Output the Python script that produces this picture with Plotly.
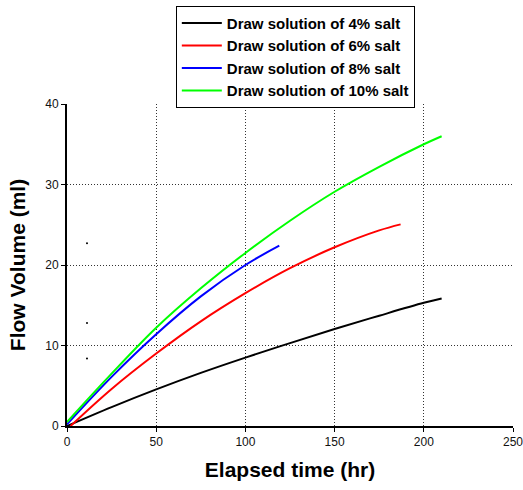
import plotly.graph_objects as go

# Data
x_4 = [0, 25, 50, 75, 100, 125, 150, 175, 200, 210]
y_4 = [0, 2.35, 4.55, 6.6, 8.5, 10.3, 12.05, 13.7, 15.3, 15.85]

x_6 = [2, 25, 50, 75, 100, 125, 150, 175, 187]
y_6 = [0, 4.6, 9.0, 13.0, 16.5, 19.6, 22.2, 24.3, 25.05]

x_8 = [0, 25, 50, 75, 100, 119]
y_8 = [0.2, 6.1, 11.4, 16.1, 20.0, 22.4]

x_10 = [0, 25, 50, 75, 100, 125, 150, 175, 200, 210]
y_10 = [0.5, 6.5, 12.2, 17.1, 21.5, 25.5, 29.1, 32.2, 35.0, 36.0]

stray_x = [11.2, 11.2, 11.2]
stray_y = [22.7, 12.8, 8.4]

names = ["Draw solution of 4% salt", "Draw solution of 6% salt",
         "Draw solution of 8% salt", "Draw solution of 10% salt"]
colors = ["#000000", "#ff0000", "#0000ff", "#00ff00"]
series = [(x_4, y_4), (x_6, y_6), (x_8, y_8), (x_10, y_10)]

font = "Arial, Liberation Sans, sans-serif"

fig = go.Figure()
for (xs, ys), n, c in zip(series, names, colors):
    fig.add_trace(go.Scatter(x=xs, y=ys, name=n, mode="lines",
                             line=dict(color=c, width=2, shape="spline", smoothing=1.0)))

fig.add_trace(go.Scatter(x=stray_x, y=stray_y, mode="markers", showlegend=False,
                         marker=dict(color="#000000", size=2), hoverinfo="skip"))

fig.update_layout(
    width=523, height=490,
    margin=dict(l=67, r=10, t=104, b=64, autoexpand=False),
    paper_bgcolor="white", plot_bgcolor="white",
    font=dict(family=font, size=12, color="#000000"),
    showlegend=True,
    legend=dict(x=0.244, y=1.305, xanchor="left", yanchor="top",
                bordercolor="#000000", borderwidth=1, bgcolor="white",
                font=dict(family=font, size=15, color="#000000", weight="bold"),
                tracegroupgap=0, itemwidth=40),
    xaxis=dict(range=[0, 250.001], dtick=50, tick0=0, automargin=False,
               showline=True, linecolor="#000000", linewidth=2,
               ticks="outside", ticklen=4, tickcolor="#000000",
               showgrid=True, gridcolor="#333333", griddash="1px,2px", gridwidth=1,
               zeroline=False, ticklabeloverflow="allow",
               tickfont=dict(family=font, size=12, color="#111111"),
               title=dict(text="Elapsed time (hr)", standoff=14,
                          font=dict(family=font, size=21, color="#000000", weight="bold"))),
    yaxis=dict(range=[0, 40.001], dtick=10, tick0=0, automargin=False,
               showline=True, linecolor="#000000", linewidth=2,
               ticks="outside", ticklen=4, tickcolor="#000000",
               showgrid=True, gridcolor="#333333", griddash="1px,2px", gridwidth=1,
               zeroline=False, ticklabeloverflow="allow",
               tickfont=dict(family=font, size=12, color="#111111"),
               title=dict(text="Flow Volume (ml)", standoff=14,
                          font=dict(family=font, size=21, color="#000000", weight="bold"))),
)

fig.write_html("out.html")
